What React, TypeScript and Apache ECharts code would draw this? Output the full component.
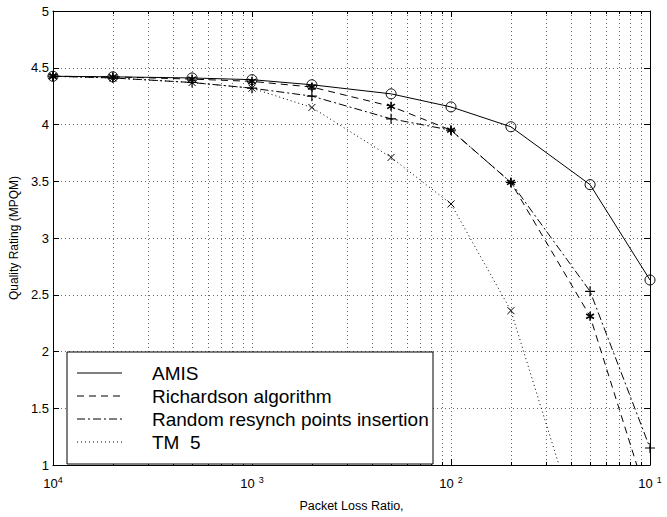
import React, { useEffect, useRef } from 'react';
import * as echarts from 'echarts';

// Packet loss ratios (x) and quality ratings (MPQM)
const lossRatio = [1e-4, 2e-4, 5e-4, 1e-3, 2e-3, 5e-3, 1e-2, 2e-2, 5e-2, 1e-1];
const amis = [4.425, 4.42, 4.41, 4.395, 4.35, 4.27, 4.155, 3.98, 3.47, 2.63];
const richardson = [4.425, 4.42, 4.4, 4.38, 4.33, 4.16, 3.95, 3.49, 2.31, 0.63];
const randomResynch = [4.425, 4.41, 4.37, 4.32, 4.25, 4.05, 3.95, 3.49, 2.53, 1.15];
const tm5: (number | null)[] = [4.425, 4.41, 4.37, 4.32, 4.15, 3.71, 3.3, 2.36, 0.12, null];

const seriesNames = ['AMIS', 'Richardson algorithm', 'Random resynch points insertion', 'TM  5'];

// Axis ticks
const xTickValues = [1e-4, 1e-3, 1e-2, 1e-1];
const xTickExps = ['4', '3', '2', '1'];
const yMin = 1;
const yMax = 5;
const yStep = 0.5;

const FONT = "'Liberation Sans', Arial, Helvetica, sans-serif";

const pairs = (ys: (number | null)[]) =>
  lossRatio.map((x, i) => [x, ys[i]]).filter((p) => p[1] !== null);

const ASTERISK = 'path://M5,0L5,10M0.67,2.5L9.33,7.5M0.67,7.5L9.33,2.5';
const PLUS = 'path://M5,0L5,10M0,5L10,5';
const CROSS = 'path://M0,0L10,10M0,10L10,0';

export default function App() {
  const ref = useRef<HTMLDivElement>(null);

  useEffect(() => {
    if (!ref.current) return;
    const chart = echarts.init(ref.current, null, { renderer: 'svg' });

    const gridDot = { color: '#666', width: 1, type: [1, 3] as number[] };

    const xLabelFmt = (v: number) => {
      const i = xTickValues.findIndex((t) => Math.abs(Math.log10(t) - Math.log10(v)) < 1e-6);
      if (i < 0) return '';
      return i === 0 ? `{b|10}{s|${xTickExps[i]}}` : `{b|10}{g|${xTickExps[i]}}`;
    };

    const lineSeries = (
      name: string,
      ys: (number | null)[],
      type: any,
      symbol: string,
      size: number,
      bw: number
    ) => ({
      name,
      type: 'line',
      data: pairs(ys),
      xAxisIndex: 0,
      yAxisIndex: 0,
      clip: true,
      symbol,
      symbolSize: size,
      symbolKeepAspect: true,
      showAllSymbol: true,
      color: '#000',
      lineStyle: { color: '#000', width: 1, type },
      itemStyle: { color: 'rgba(0,0,0,0)', borderColor: '#000', borderWidth: bw },
      emphasis: { disabled: true },
      z: 3,
    });

    const rowY = [373, 396, 419, 442];
    const dashes: (number[] | null)[] = [null, [7, 5], [8, 3, 2, 3], [1, 3]];
    const legendEls: any[] = [
      {
        type: 'rect',
        shape: { x: 67, y: 352, width: 366, height: 112 },
        style: { fill: '#fff', stroke: '#000', lineWidth: 1 },
        z: 10,
      },
    ];
    seriesNames.forEach((n, i) => {
      legendEls.push({
        type: 'line',
        shape: { x1: 77, y1: rowY[i], x2: 122, y2: rowY[i] },
        style: { stroke: '#000', lineWidth: 1, lineDash: dashes[i] || undefined },
        z: 11,
      });
      legendEls.push({
        type: 'text',
        x: 152,
        y: rowY[i],
        style: {
          text: n,
          fill: '#000',
          fontSize: 19,
          fontFamily: FONT,
          textVerticalAlign: 'middle',
          verticalAlign: 'middle',
          whiteSpace: 'pre',
        },
        z: 11,
      });
    });

    const option: any = {
      animation: false,
      backgroundColor: '#fff',
      grid: { left: 52, right: 17, top: 11, bottom: 42 },
      xAxis: [
        {
          type: 'log',
          logBase: 10,
          min: 1e-4,
          max: 1e-1,
          position: 'bottom',
          name: 'Packet Loss Ratio,',
          nameLocation: 'middle',
          nameGap: 34,
          nameTextStyle: { fontSize: 12.5, color: '#000', fontFamily: FONT },
          axisLine: { show: true, onZero: false, lineStyle: { color: '#000', width: 1 } },
          axisTick: { show: true, inside: true, length: 6, lineStyle: { color: '#000' } },
          minorTick: { show: true, splitNumber: 9, length: 3, lineStyle: { color: '#000' } },
          splitLine: { show: true, lineStyle: gridDot },
          minorSplitLine: { show: true, lineStyle: gridDot },
          axisLabel: {
            formatter: xLabelFmt,
            margin: 10,
            color: '#000',
            showMinLabel: true,
            showMaxLabel: true,
            rich: {
              b: { fontSize: 13, fontFamily: FONT, color: '#000' },
              s: { fontSize: 9, fontFamily: FONT, color: '#000', verticalAlign: 'bottom', padding: [0, 0, 8, 0] },
              g: { fontSize: 9, fontFamily: FONT, color: '#000', verticalAlign: 'bottom', padding: [0, 0, 8, 4] },
            },
          },
        },
        {
          type: 'log',
          logBase: 10,
          min: 1e-4,
          max: 1e-1,
          position: 'top',
          axisLine: { show: true, onZero: false, lineStyle: { color: '#000', width: 1 } },
          axisTick: { show: true, inside: true, length: 6, lineStyle: { color: '#000' } },
          minorTick: { show: true, splitNumber: 9, length: 3, lineStyle: { color: '#000' } },
          splitLine: { show: false },
          minorSplitLine: { show: false },
          axisLabel: { show: false },
        },
      ],
      yAxis: [
        {
          type: 'value',
          min: yMin,
          max: yMax,
          interval: yStep,
          position: 'left',
          name: 'Quality Rating (MPQM)',
          nameLocation: 'middle',
          nameGap: 25,
          nameRotate: 90,
          nameTextStyle: { fontSize: 12, color: '#000', fontFamily: FONT },
          axisLine: { show: true, onZero: false, lineStyle: { color: '#000', width: 1 } },
          axisTick: { show: true, inside: true, length: 6, lineStyle: { color: '#000' } },
          splitLine: { show: true, lineStyle: gridDot },
          axisLabel: { color: '#000', fontSize: 13, fontFamily: FONT, margin: 4 },
        },
        {
          type: 'value',
          min: yMin,
          max: yMax,
          interval: yStep,
          position: 'right',
          axisLine: { show: true, onZero: false, lineStyle: { color: '#000', width: 1 } },
          axisTick: { show: true, inside: true, length: 6, lineStyle: { color: '#000' } },
          splitLine: { show: false },
          axisLabel: { show: false },
        },
      ],
      series: [
        lineSeries(seriesNames[0], amis, 'solid', 'circle', 10, 1),
        lineSeries(seriesNames[1], richardson, [7, 5], ASTERISK, 9, 1.6),
        lineSeries(seriesNames[2], randomResynch, [8, 3, 2, 3], PLUS, 10, 1.2),
        lineSeries(seriesNames[3], tm5, [1, 3], CROSS, 7, 1),
      ],
      graphic: legendEls,
    };

    chart.setOption(option);
    return () => chart.dispose();
  }, []);

  return (
    <div
      ref={ref}
      style={{ position: 'fixed', left: 0, top: 0, width: 667, height: 517, background: '#fff' }}
    />
  );
}
